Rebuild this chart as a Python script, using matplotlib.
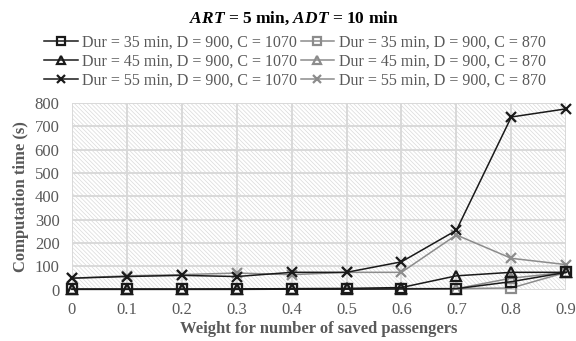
import matplotlib.pyplot as plt
from matplotlib.patches import Rectangle
import numpy as np

plt.rcParams['font.family'] = ['Liberation Serif', 'DejaVu Serif']
plt.rcParams['mathtext.fontset'] = 'custom'
plt.rcParams['mathtext.rm'] = 'Liberation Serif'
plt.rcParams['mathtext.bfit'] = 'Liberation Serif:italic:bold'
plt.rcParams['hatch.linewidth'] = 0.5

weights = [0, 0.1, 0.2, 0.3, 0.4, 0.5, 0.6, 0.7, 0.8, 0.9]

# C = 1070
dur35_c1070 = [2, 2, 2, 2, 3, 3, 4, 5, 35, 75]
dur45_c1070 = [3, 3, 3, 4, 5, 6, 10, 60, 75, 75]
dur55_c1070 = [50, 57, 62, 57, 75, 75, 120, 255, 740, 775]
# C = 870
dur35_c870 = [4, 4, 4, 4, 5, 5, 5, 5, 8, 75]
dur45_c870 = [3, 3, 3, 3, 4, 4, 5, 5, 50, 75]
dur55_c870 = [50, 60, 65, 72, 65, 75, 75, 235, 135, 108]

labels_1070 = ['Dur = 35 min, D = 900, C = 1070',
               'Dur = 45 min, D = 900, C = 1070',
               'Dur = 55 min, D = 900, C = 1070']
labels_870 = ['Dur = 35 min, D = 900, C = 870',
              'Dur = 45 min, D = 900, C = 870',
              'Dur = 55 min, D = 900, C = 870']

yticks = np.arange(0, 801, 100)

fig = plt.figure(figsize=(5.76, 3.41), dpi=100)
ax = fig.add_axes([0.125, 0.150, 0.858, 0.548])

# hatched plot background
ax.add_patch(Rectangle((0, 0), 1, 1, transform=ax.transAxes, facecolor='white',
                       edgecolor='#dadada', hatch='\\' * 8, linewidth=0, zorder=0))

black = '#1a1a1a'
gray = '#8c8c8c'
markers = ['s', '^', 'x']
handles = []
for series, lab, m in zip([dur35_c1070, dur45_c1070, dur55_c1070], labels_1070, markers):
    h, = ax.plot(weights, series, color=black, lw=1.1, marker=m, ms=7,
                 mfc='none', mec=black, mew=1.6, label=lab, clip_on=False, zorder=4)
    handles.append(h)
for series, lab, m in zip([dur35_c870, dur45_c870, dur55_c870], labels_870, markers):
    h, = ax.plot(weights, series, color=gray, lw=1.1, marker=m, ms=7,
                 mfc='none', mec=gray, mew=1.6, label=lab, clip_on=False, zorder=3)
    handles.append(h)

ax.set_xlim(0, 0.9)
ax.set_ylim(0, 800)
ax.set_xticks(weights)
ax.set_xticklabels([f'{w:g}' for w in weights])
ax.set_yticks(yticks)
ax.grid(True, color='#d9d9d9', lw=1.4, zorder=1)
ax.set_axisbelow(True)
for s in ax.spines.values():
    s.set_visible(False)
ax.tick_params(length=0, labelsize=12, labelcolor='#595959')
ax.tick_params(axis='x', pad=9)
ax.tick_params(axis='y', pad=9)

ax.set_xlabel('Weight for number of saved passengers', fontsize=12,
              fontweight='bold', color='#595959', labelpad=2)
ax.set_ylabel('Computation time (s)', fontsize=12, fontweight='bold',
              color='#595959', labelpad=4)

fig.text(0.51, 0.945, r'$\mathbfit{ART}$ = 5 min, $\mathbfit{ADT}$ = 10 min',
         ha='center', va='center', fontsize=12.5, fontweight='bold')

fig.legend(handles=handles, ncol=2, loc='center', bbox_to_anchor=(0.512, 0.82),
           frameon=False, fontsize=11.5, labelcolor='#595959', handlelength=2.1,
           handletextpad=0.3, columnspacing=0.2, labelspacing=0.18, borderpad=0,
           markerscale=0.85)

fig.savefig('out.png', dpi=100)
